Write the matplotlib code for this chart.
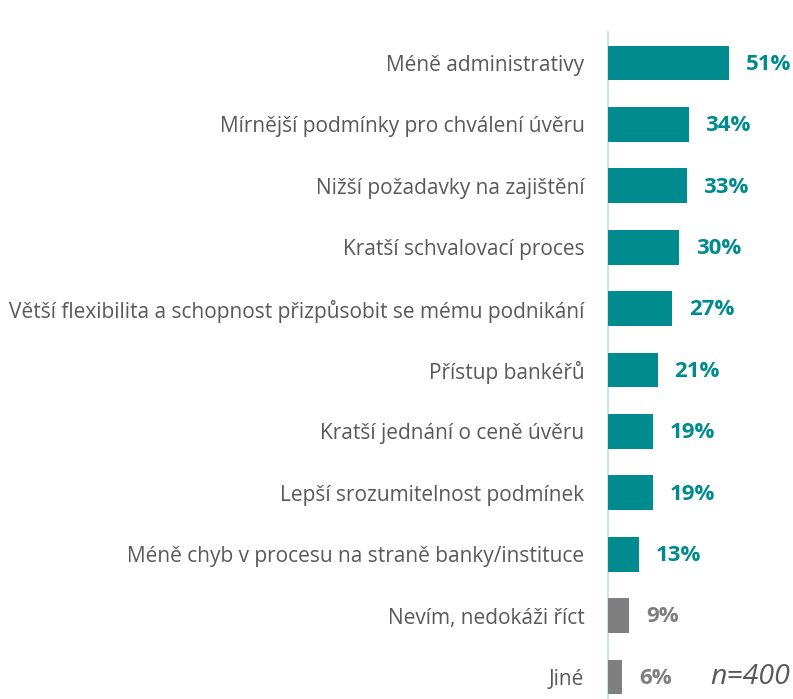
import matplotlib
matplotlib.use("Agg")
import matplotlib.pyplot as plt

LABELS = [
    "Méně administrativy",
    "Mírnější podmínky pro chválení úvěru",
    "Nižší požadavky na zajištění",
    "Kratší schvalovací proces",
    "Větší flexibilita a schopnost přizpůsobit se mému podnikání",
    "Přístup bankéřů",
    "Kratší jednání o ceně úvěru",
    "Lepší srozumitelnost podmínek",
    "Méně chyb v procesu na straně banky/instituce",
    "Nevím, nedokáži říct",
    "Jiné",
]
VALUES = [51, 34, 33, 30, 27, 21, 19, 19, 13, 9, 6]
GREY_FROM = 9  # last two answers drawn in grey

TEAL = "#008C8E"
GREY = "#7F7F7F"
TEXT = "#595959"

plt.rcParams["font.family"] = ["Open Sans", "DejaVu Sans"]

fig = plt.figure(figsize=(7.93, 6.99), dpi=100)
ax = fig.add_axes([608 / 793, 0, 1 - 608 / 793, 1 - 32 / 699])

y = list(range(len(VALUES)))
cols = [TEAL if i < GREY_FROM else GREY for i in y]
ax.barh(y, VALUES, height=0.57, color=cols, zorder=3)
for yi, v, c in zip(y, VALUES, cols):
    ax.annotate(f"{v}%", xy=(v, yi), xytext=(12, -1), textcoords="offset points",
                ha="left", va="center", fontsize=16, fontweight="bold", color=c)

ax.set_xlim(0, 185 / 2.38)
ax.set_ylim((699 - 63) / 61.4, (32 - 63) / 61.4)
ax.set_yticks(y)
ax.set_yticklabels(LABELS, fontsize=15, color=TEXT)
ax.tick_params(axis="y", length=0, pad=17)
ax.set_xticks([])
for s in ("top", "right", "bottom"):
    ax.spines[s].set_visible(False)
ax.spines["left"].set_color("#C9D6F2")
ax.spines["left"].set_linewidth(1.2)

fig.text(0.997, 1 - 677 / 699, "n=400", ha="right", va="center", fontsize=20.5,
         style="italic", color=TEXT)

fig.savefig("out.png", dpi=100)
